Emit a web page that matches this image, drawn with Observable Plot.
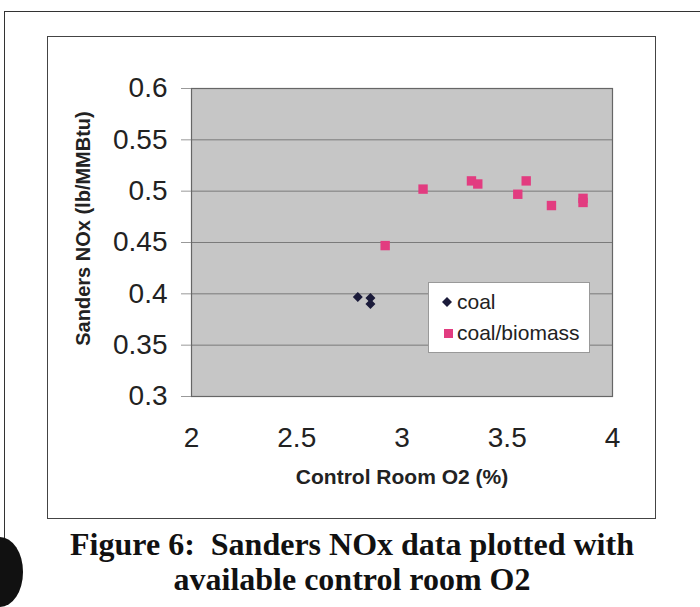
<!DOCTYPE html>
<html><head><meta charset="utf-8">
<script src="https://cdn.jsdelivr.net/npm/d3@7"></script>
<script src="https://cdn.jsdelivr.net/npm/@observablehq/plot@0.6"></script>
<style>
body{margin:0;background:#fff;width:700px;height:607px;overflow:hidden;position:relative;font-family:"Liberation Sans",Arial,sans-serif}
#outerTop{position:absolute;left:4px;top:11px;width:700px;height:0;border-top:1.5px solid #333}
#outerLeft{position:absolute;left:4px;top:11px;width:0;height:530px;border-left:1.5px solid #333}
#box{position:absolute;left:47px;top:36px;width:607px;height:481px;border:1px solid #444}
#chart{position:absolute;left:0;top:0}
#legend{position:absolute;left:428px;top:282px;width:162px;height:71px;background:#fff;border:1px solid #999;box-sizing:border-box;font-size:21px;color:#222}
.li{position:absolute;left:28px;white-space:nowrap}
.mk{position:absolute}
#caption{position:absolute;left:0;top:527px;width:704px;text-align:center;font-family:"Liberation Serif","Times New Roman",serif;font-weight:bold;font-size:32px;line-height:35px;color:#111}
#blob{position:absolute;left:-23px;top:537px;width:46px;height:70px;border-radius:50%;background:#111}
</style>
</head><body>
<div id="outerTop"></div><div id="outerLeft"></div>
<div id="box"><div id="chart"></div></div>
<div id="legend">
  <svg class="mk" style="left:12px;top:13px" width="12" height="12"><path d="M6 1 L11 6 L6 11 L1 6 Z" fill="#1b1b3a"/></svg>
  <div class="li" style="top:7px">coal</div>
  <svg class="mk" style="left:15px;top:46px" width="10" height="10"><rect x="0" y="0" width="9" height="9" fill="#e23c80"/></svg>
  <div class="li" style="top:38px">coal/biomass</div>
</div>
<div id="caption">Figure 6:&nbsp; Sanders NOx data plotted with<br>available control room O2</div>
<div id="blob"></div>
<script>
const coalO2 = [2.79, 2.85, 2.85];
const coalNOx = [0.397, 0.396, 0.390];
const bioO2 = [2.92, 3.10, 3.33, 3.36, 3.55, 3.59, 3.71, 3.86, 3.86];
const bioNOx = [0.447, 0.502, 0.510, 0.507, 0.497, 0.510, 0.486, 0.493, 0.489];
const xTicks = [2, 2.5, 3, 3.5, 4];
const yTicks = [0.3, 0.35, 0.4, 0.45, 0.5, 0.55, 0.6];
const xLabel = "Control Room O2 (%)";
const yLabel = "Sanders NOx (lb/MMBtu)";

const coal = coalO2.map((x, i) => ({x, y: coalNOx[i]}));
const bio = bioO2.map((x, i) => ({x, y: bioNOx[i]}));

const chart = Plot.plot({
  width: 607, height: 481,
  marginLeft: 143, marginRight: 43, marginTop: 51, marginBottom: 122,
  style: {fontFamily: '"Liberation Sans", Arial, sans-serif', color: "#222", background: "transparent"},
  x: {domain: [2, 4]},
  y: {domain: [0.3, 0.6]},
  marks: [
    Plot.frame({fill: "#c6c6c6"}),
    Plot.gridY(yTicks, {stroke: "#7a7a7a", strokeOpacity: 1, strokeWidth: 1}),
    Plot.frame({stroke: "#666", strokeWidth: 1.2}),
    Plot.axisY(yTicks, {tickSize: 10, tickPadding: 14, fontSize: 28, stroke: "#999", tickFormat: d => String(d), label: null}),
    Plot.axisX(xTicks, {tickSize: 0, tickPadding: 31, fontSize: 28, tickFormat: d => String(d), label: null}),
    Plot.dot(coal, {x: "x", y: "y", symbol: "diamond2", r: 4.5, fill: "#1b1b3a", stroke: null}),
    Plot.dot(bio, {x: "x", y: "y", symbol: "square", r: 5.3, fill: "#e23c80", stroke: null}),
    Plot.text([yLabel], {text: d => d, frameAnchor: "left", textAnchor: "middle", dx: -108, dy: -14, rotate: -90, fontSize: 20, fontWeight: "bold", fill: "#222"}),
    Plot.text([xLabel], {text: d => d, frameAnchor: "bottom", textAnchor: "middle", dy: 87, fontSize: 21, fontWeight: "bold", fill: "#222"})
  ]
});
document.getElementById("chart").appendChild(chart);
</script>
</body></html>
